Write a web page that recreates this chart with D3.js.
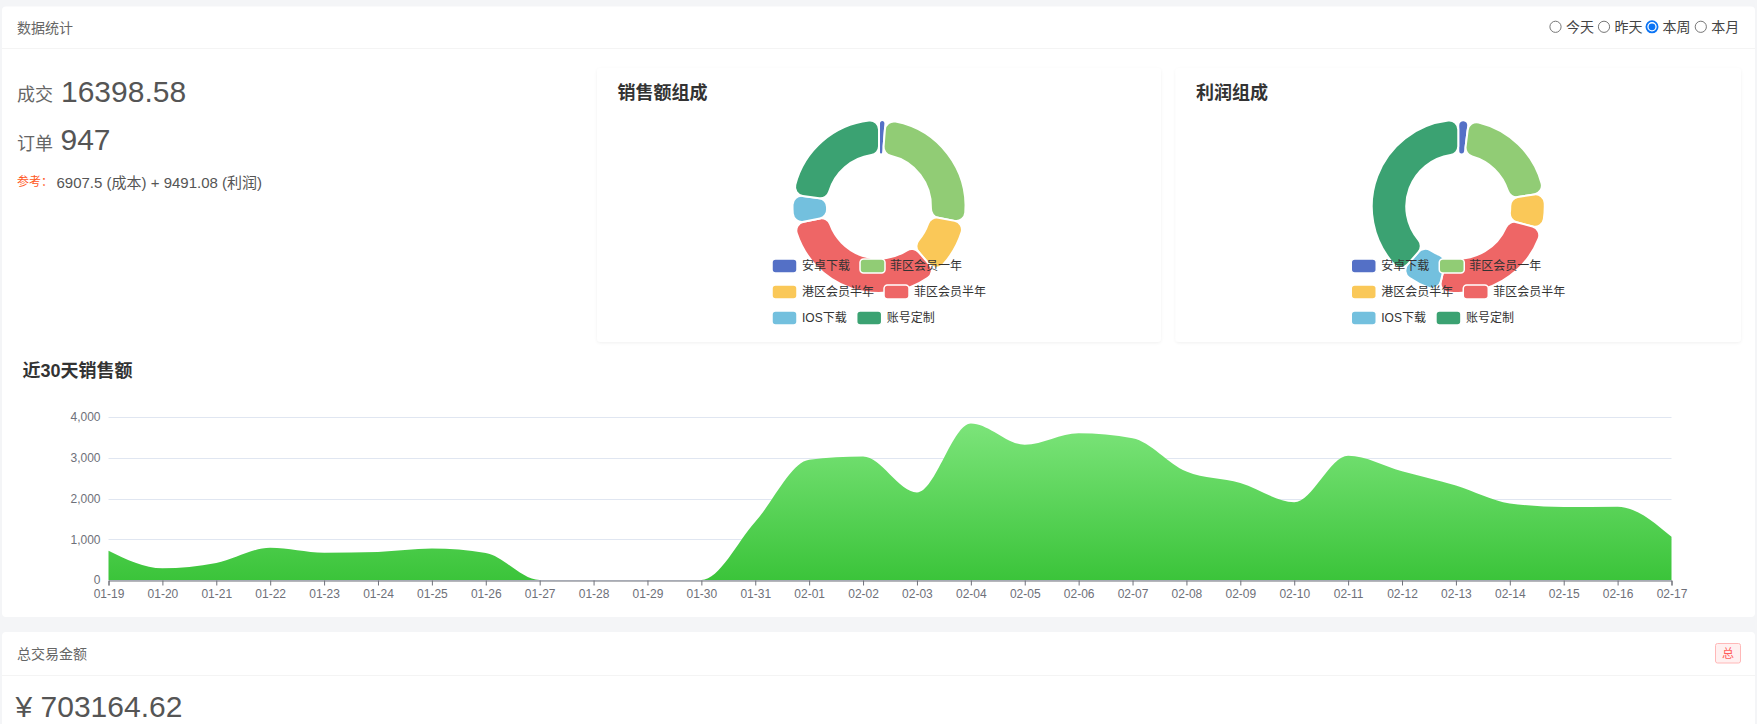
<!DOCTYPE html>
<html><head><meta charset="utf-8">
<script src="https://cdn.jsdelivr.net/npm/d3@7"></script>
<style>
html,body{margin:0;padding:0;background:#f4f5f7;overflow:hidden;}
svg{display:block;}
text{font-family:"Liberation Sans",Arial,"Noto Sans CJK SC",sans-serif;}
</style></head><body>
<svg id="c" width="1757" height="724"></svg>
<script>
// ---------- data ----------
const categories = ['01-19','01-20','01-21','01-22','01-23','01-24','01-25','01-26','01-27','01-28',
  '01-29','01-30','01-31','02-01','02-02','02-03','02-04','02-05','02-06','02-07',
  '02-08','02-09','02-10','02-11','02-12','02-13','02-14','02-15','02-16','02-17'];
const salesValues = [720, 290, 420, 790, 670, 690, 770, 660, 0, 0,
  0, 0, 1430, 2950, 3030, 2150, 3840, 3320, 3600, 3480,
  2660, 2380, 1910, 3050, 2670, 2320, 1880, 1790, 1800, 1060];
const yTickValues = [0, 1000, 2000, 3000, 4000];
const pieNames = ['安卓下载','菲区会员一年','港区会员半年','菲区会员半年','IOS下载','账号定制'];
const salesComposition = [200, 4390, 1740, 5450, 880, 3740];
const profitComposition = [185, 1950, 635, 2320, 740, 3660];
const pieColors = ['#5470c6','#91cc75','#fac858','#ee6666','#73c0de','#3ba272'];
const periodOptions = ['今天','昨天','本周','本月'];
const selectedPeriod = '本周';
const dealAmount = '16398.58';
const orderCount = '947';
const referenceText = '6907.5 (成本) + 9491.08 (利润)';
const totalAmount = '¥ 703164.62';

// ---------- drawing ----------
const svg = d3.select('#c');
const defs = svg.append('defs');
const sh = defs.append('filter').attr('id','sh').attr('x','-5%').attr('y','-5%').attr('width','110%').attr('height','115%');
sh.append('feDropShadow').attr('dx',0).attr('dy',1).attr('stdDeviation',1.5).attr('flood-color','#000').attr('flood-opacity',0.06);

// main cards
svg.append('rect').attr('x',2).attr('y',6.5).attr('width',1753).attr('height',610.5).attr('rx',4).attr('fill','#fff');
svg.append('line').attr('x1',2).attr('x2',1755).attr('y1',48.5).attr('y2',48.5).attr('stroke','#f4f4f4');
svg.append('text').attr('x',17).attr('y',28).attr('dominant-baseline','central')
  .attr('font-size',14).attr('fill','#666').text('数据统计');

svg.append('rect').attr('x',2).attr('y',632).attr('width',1753).attr('height',110).attr('rx',4).attr('fill','#fff');
svg.append('line').attr('x1',2).attr('x2',1755).attr('y1',675.5).attr('y2',675.5).attr('stroke','#f4f4f4');
svg.append('text').attr('x',17).attr('y',653.5).attr('dominant-baseline','central')
  .attr('font-size',14).attr('fill','#666').text('总交易金额');
svg.append('rect').attr('x',1715.5).attr('y',643.5).attr('width',25).attr('height',19.5).attr('rx',2)
  .attr('fill','#fff0f0').attr('stroke','#ffb8b8');
svg.append('text').attr('x',1728).attr('y',653.5).attr('dominant-baseline','central').attr('text-anchor','middle')
  .attr('font-size',12).attr('fill','#ff5c5c').text('总');
svg.append('text').attr('x',15.5).attr('y',717).attr('font-size',30).attr('fill','#555').text(totalAmount);

// radios
const radioX = [1555.5, 1604, 1652, 1700.8];
periodOptions.forEach((p,i)=>{
  const g = svg.append('g');
  if (p === selectedPeriod) {
    g.append('circle').attr('cx',radioX[i]).attr('cy',26.8).attr('r',5.6).attr('fill','#fff').attr('stroke','#0b74f5').attr('stroke-width',1.8);
    g.append('circle').attr('cx',radioX[i]).attr('cy',26.8).attr('r',3.4).attr('fill','#0b74f5');
  } else {
    g.append('circle').attr('cx',radioX[i]).attr('cy',26.8).attr('r',5.6).attr('fill','#fff').attr('stroke','#777').attr('stroke-width',1);
  }
  g.append('text').attr('x',radioX[i]+10.5).attr('y',27).attr('dominant-baseline','central')
    .attr('font-size',14).attr('fill','#444').text(p);
});

// left stats
svg.append('text').attr('x',17).attr('y',101).attr('font-size',18).attr('fill','#666').text('成交');
svg.append('text').attr('x',61).attr('y',101.5).attr('font-size',30).attr('fill','#555').text(dealAmount);
svg.append('text').attr('x',17).attr('y',150).attr('font-size',18).attr('fill','#666').text('订单');
svg.append('text').attr('x',60.5).attr('y',150).attr('font-size',30).attr('fill','#555').text(orderCount);
svg.append('text').attr('x',17).attr('y',182).attr('dominant-baseline','central').attr('font-size',12).attr('fill','#ff5722').text('参考：');
svg.append('text').attr('x',56.5).attr('y',182).attr('dominant-baseline','central').attr('font-size',15).attr('fill','#555').text(referenceText);

// pie cards
function drawPie(cardX, cardW, title, values) {
  svg.append('rect').attr('x',cardX).attr('y',68).attr('width',cardW).attr('height',274).attr('rx',4)
    .attr('fill','#fff').attr('filter','url(#sh)');
  svg.append('text').attr('x',cardX+20.5).attr('y',93).attr('dominant-baseline','central')
    .attr('font-size',18).attr('font-weight','bold').attr('fill','#333').text(title);
  const cx = cardX + cardW/2, cy = 206.5;
  const pie = d3.pie().sort(null).value(d=>d).startAngle(0).endAngle(2*Math.PI);
  const arc = d3.arc().innerRadius(52).outerRadius(86.5).cornerRadius(9);
  const g = svg.append('g').attr('transform',`translate(${cx},${cy})`);
  g.selectAll('path').data(pie(values)).join('path')
    .attr('d',arc).attr('fill',(d,i)=>pieColors[i]).attr('stroke','#fff').attr('stroke-width',2);
  // legend
  const rows = [[0,1],[2,3],[4,5]];
  const rowY = [266, 292, 318];
  const lx = cx - 107;
  rows.forEach((r,ri)=>{
    let x = lx;
    r.forEach(idx=>{
      svg.append('rect').attr('x',x).attr('y',rowY[ri]-7).attr('width',25).attr('height',14).attr('rx',3.5)
        .attr('fill',pieColors[idx]).attr('stroke','#fff').attr('stroke-width',1.5);
      const t = svg.append('text').attr('x',x+30).attr('y',rowY[ri]).attr('dominant-baseline','central')
        .attr('font-size',12).attr('fill','#333').text(pieNames[idx]);
      x += 30 + t.node().getComputedTextLength() + 10;
    });
  });
}
drawPie(597, 564, '销售额组成', salesComposition);
drawPie(1175.5, 565.5, '利润组成', profitComposition);

// area chart
svg.append('text').attr('x',22.5).attr('y',371).attr('dominant-baseline','central')
  .attr('font-size',18).attr('font-weight','bold').attr('fill','#333').text('近30天销售额');

const x = d3.scalePoint().domain(categories).range([108.5, 1671.5]);
const y = d3.scaleLinear().domain([0, 4000]).range([580, 417]);

const grid = svg.append('g');
grid.selectAll('line').data(yTickValues).join('line')
  .attr('x1',108.5).attr('x2',1671.5).attr('y1',d=>Math.round(y(d))+0.5).attr('y2',d=>Math.round(y(d))+0.5)
  .attr('stroke','#e0e6f1');

const grad = defs.append('linearGradient').attr('id','ag').attr('x1',0).attr('y1',0).attr('x2',0).attr('y2',1);
grad.append('stop').attr('offset',0).attr('stop-color','#7ce47a');
grad.append('stop').attr('offset',1).attr('stop-color','#3bc43a');

const area = d3.area()
  .x((d,i)=>x(categories[i])).y0(y(0)).y1(d=>y(d))
  .curve(d3.curveMonotoneX);
svg.append('path').datum(salesValues).attr('d',area).attr('fill','url(#ag)');

const yAxis = svg.append('g').attr('transform','translate(108.5,0)')
  .call(d3.axisLeft(y).tickValues(yTickValues).tickSize(0).tickPadding(8).tickFormat(d3.format(',')));
yAxis.select('.domain').remove();
yAxis.selectAll('text').attr('fill','#6e7079').attr('font-size',12).attr('font-family','"Liberation Sans",Arial,sans-serif');

const xAxis = svg.append('g').attr('transform','translate(0,580.5)')
  .call(d3.axisBottom(x).tickSize(5).tickPadding(4));
xAxis.select('.domain').attr('stroke','#6e7079');
xAxis.selectAll('.tick line').attr('stroke','#6e7079');
xAxis.selectAll('text').attr('fill','#6e7079').attr('font-size',12).attr('font-family','"Liberation Sans",Arial,sans-serif');
</script>
</body></html>
